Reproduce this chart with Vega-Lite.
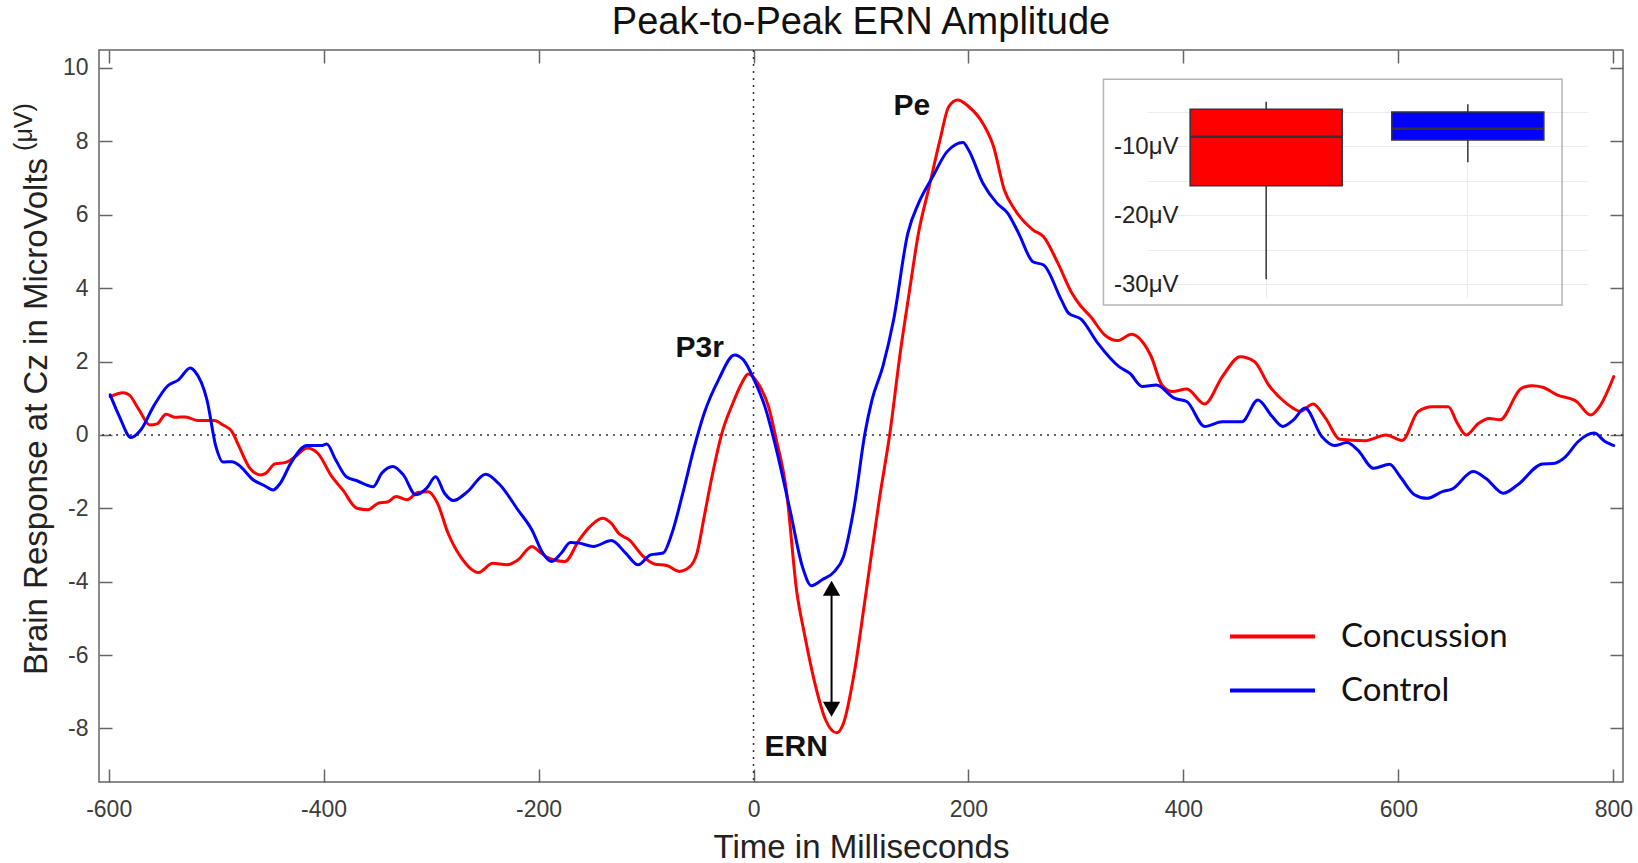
{
  "$schema": "https://vega.github.io/schema/vega-lite/v6.json",
  "width": 1524,
  "height": 732,
  "autosize": {"type": "none"},
  "padding": {"left": 99, "top": 50, "right": 15, "bottom": 81},
  "title": {"text": "Peak-to-Peak ERN Amplitude", "font": "Liberation Sans", "fontSize": 38, "fontWeight": "normal", "color": "#111111", "baseline": "alphabetic", "offset": 15, "dy": 38, "anchor": "middle", "frame": "group"},
  "config": {"view": {"stroke": "#666666", "strokeWidth": 1.5}, "font": "Liberation Sans"},
  "datasets": {
    "erp": [
      {"group":"Concussion","t":-598.6,"v":1.04},{"group":"Concussion","t":-586.6,"v":1.15},{"group":"Concussion","t":-581,"v":1.09},{"group":"Concussion","t":-571.7,"v":0.68},{"group":"Concussion","t":-561.7,"v":0.27},{"group":"Concussion","t":-555,"v":0.3},{"group":"Concussion","t":-546.6,"v":0.56},{"group":"Concussion","t":-538,"v":0.48},{"group":"Concussion","t":-528.5,"v":0.49},{"group":"Concussion","t":-517,"v":0.39},{"group":"Concussion","t":-501.9,"v":0.39},{"group":"Concussion","t":-493.6,"v":0.27},{"group":"Concussion","t":-485.3,"v":0.09},{"group":"Concussion","t":-478.6,"v":-0.32},{"group":"Concussion","t":-468.6,"v":-0.91},{"group":"Concussion","t":-458.7,"v":-1.09},{"group":"Concussion","t":-454,"v":-1.05},{"group":"Concussion","t":-445.4,"v":-0.79},{"group":"Concussion","t":-435.4,"v":-0.75},{"group":"Concussion","t":-425.4,"v":-0.57},{"group":"Concussion","t":-415.5,"v":-0.36},{"group":"Concussion","t":-405.5,"v":-0.5},{"group":"Concussion","t":-392.3,"v":-1.14},{"group":"Concussion","t":-382.2,"v":-1.5},{"group":"Concussion","t":-369,"v":-2.0},{"group":"Concussion","t":-358.9,"v":-2.04},{"group":"Concussion","t":-349,"v":-1.86},{"group":"Concussion","t":-340.7,"v":-1.83},{"group":"Concussion","t":-332.4,"v":-1.68},{"group":"Concussion","t":-322.5,"v":-1.77},{"group":"Concussion","t":-312.4,"v":-1.57},{"group":"Concussion","t":-302.4,"v":-1.55},{"group":"Concussion","t":-294.1,"v":-1.86},{"group":"Concussion","t":-284.2,"v":-2.68},{"group":"Concussion","t":-272.6,"v":-3.32},{"group":"Concussion","t":-255.9,"v":-3.75},{"group":"Concussion","t":-242.6,"v":-3.5},{"group":"Concussion","t":-229.5,"v":-3.54},{"group":"Concussion","t":-219.3,"v":-3.41},{"group":"Concussion","t":-206.2,"v":-3.04},{"group":"Concussion","t":-198.5,"v":-3.2},{"group":"Concussion","t":-192.8,"v":-3.32},{"group":"Concussion","t":-185.5,"v":-3.41},{"group":"Concussion","t":-175.5,"v":-3.45},{"group":"Concussion","t":-162.2,"v":-2.86},{"group":"Concussion","t":-152.2,"v":-2.5},{"group":"Concussion","t":-140.6,"v":-2.27},{"group":"Concussion","t":-132.3,"v":-2.41},{"group":"Concussion","t":-125.6,"v":-2.68},{"group":"Concussion","t":-115.7,"v":-2.86},{"group":"Concussion","t":-102.4,"v":-3.32},{"group":"Concussion","t":-92.4,"v":-3.52},{"group":"Concussion","t":-80.8,"v":-3.56},{"group":"Concussion","t":-69.2,"v":-3.72},{"group":"Concussion","t":-59.2,"v":-3.59},{"group":"Concussion","t":-52.6,"v":-3.22},{"group":"Concussion","t":-45.9,"v":-2.23},{"group":"Concussion","t":-39.3,"v":-1.23},{"group":"Concussion","t":-29.4,"v":0.05},{"group":"Concussion","t":-19.3,"v":0.86},{"group":"Concussion","t":-11,"v":1.41},{"group":"Concussion","t":-5,"v":1.66},{"group":"Concussion","t":4,"v":1.41},{"group":"Concussion","t":14,"v":0.77},{"group":"Concussion","t":20.6,"v":-0.05},{"group":"Concussion","t":30.5,"v":-1.5},{"group":"Concussion","t":40.4,"v":-4.31},{"group":"Concussion","t":47.2,"v":-5.4},{"group":"Concussion","t":57.1,"v":-6.77},{"group":"Concussion","t":67.1,"v":-7.77},{"group":"Concussion","t":77.5,"v":-8.12},{"group":"Concussion","t":83.7,"v":-7.86},{"group":"Concussion","t":93.7,"v":-6.49},{"group":"Concussion","t":103.7,"v":-4.5},{"group":"Concussion","t":117,"v":-1.77},{"group":"Concussion","t":126.9,"v":0.05},{"group":"Concussion","t":136.9,"v":2.32},{"group":"Concussion","t":145,"v":3.9},{"group":"Concussion","t":153.5,"v":5.5},{"group":"Concussion","t":163.5,"v":6.77},{"group":"Concussion","t":173.5,"v":8.04},{"group":"Concussion","t":181.7,"v":8.95},{"group":"Concussion","t":190.1,"v":9.13},{"group":"Concussion","t":200.1,"v":8.95},{"group":"Concussion","t":213.4,"v":8.49},{"group":"Concussion","t":223.3,"v":7.86},{"group":"Concussion","t":233.3,"v":6.68},{"group":"Concussion","t":243.3,"v":6.13},{"group":"Concussion","t":259.9,"v":5.59},{"group":"Concussion","t":269.9,"v":5.4},{"group":"Concussion","t":283.2,"v":4.68},{"group":"Concussion","t":296.3,"v":3.86},{"group":"Concussion","t":303.7,"v":3.54},{"group":"Concussion","t":313.7,"v":3.22},{"group":"Concussion","t":326.9,"v":2.72},{"group":"Concussion","t":338.6,"v":2.57},{"group":"Concussion","t":351.8,"v":2.74},{"group":"Concussion","t":361.8,"v":2.54},{"group":"Concussion","t":370.1,"v":2.13},{"group":"Concussion","t":380,"v":1.36},{"group":"Concussion","t":389.9,"v":1.18},{"group":"Concussion","t":403.1,"v":1.25},{"group":"Concussion","t":419.7,"v":0.84},{"group":"Concussion","t":436.2,"v":1.59},{"group":"Concussion","t":452.8,"v":2.13},{"group":"Concussion","t":466,"v":2.0},{"group":"Concussion","t":479.3,"v":1.36},{"group":"Concussion","t":495.8,"v":0.86},{"group":"Concussion","t":509,"v":0.64},{"group":"Concussion","t":520.6,"v":0.84},{"group":"Concussion","t":532.3,"v":0.45},{"group":"Concussion","t":545.5,"v":-0.12},{"group":"Concussion","t":568.7,"v":-0.16},{"group":"Concussion","t":588.5,"v":0.0},{"group":"Concussion","t":603.5,"v":-0.15},{"group":"Concussion","t":618.4,"v":0.64},{"group":"Concussion","t":631.6,"v":0.77},{"group":"Concussion","t":646.5,"v":0.77},{"group":"Concussion","t":654.8,"v":0.32},{"group":"Concussion","t":663.1,"v":0.0},{"group":"Concussion","t":674.7,"v":0.32},{"group":"Concussion","t":684.6,"v":0.45},{"group":"Concussion","t":694.5,"v":0.41},{"group":"Concussion","t":714.4,"v":1.27},{"group":"Concussion","t":724.3,"v":1.34},{"group":"Concussion","t":734.2,"v":1.3},{"group":"Concussion","t":747.5,"v":1.09},{"group":"Concussion","t":765.7,"v":0.91},{"group":"Concussion","t":779,"v":0.54},{"group":"Concussion","t":787.2,"v":0.77},{"group":"Concussion","t":800.4,"v":1.59},
      {"group":"Control","t":-598.6,"v":1.09},{"group":"Control","t":-590,"v":0.5},{"group":"Control","t":-579.3,"v":-0.07},{"group":"Control","t":-570,"v":0.14},{"group":"Control","t":-558.4,"v":0.77},{"group":"Control","t":-545,"v":1.34},{"group":"Control","t":-535,"v":1.5},{"group":"Control","t":-524.1,"v":1.82},{"group":"Control","t":-519.7,"v":1.73},{"group":"Control","t":-508.5,"v":0.95},{"group":"Control","t":-500.2,"v":-0.32},{"group":"Control","t":-493.6,"v":-0.74},{"group":"Control","t":-485.3,"v":-0.73},{"group":"Control","t":-479,"v":-0.82},{"group":"Control","t":-465.3,"v":-1.23},{"group":"Control","t":-455.3,"v":-1.38},{"group":"Control","t":-447,"v":-1.5},{"group":"Control","t":-440.4,"v":-1.32},{"group":"Control","t":-430.5,"v":-0.77},{"group":"Control","t":-415.5,"v":-0.29},{"group":"Control","t":-402.1,"v":-0.29},{"group":"Control","t":-397.1,"v":-0.25},{"group":"Control","t":-388.8,"v":-0.68},{"group":"Control","t":-378.9,"v":-1.14},{"group":"Control","t":-369,"v":-1.25},{"group":"Control","t":-353.9,"v":-1.41},{"group":"Control","t":-345.8,"v":-1.04},{"group":"Control","t":-335.7,"v":-0.86},{"group":"Control","t":-325.8,"v":-1.09},{"group":"Control","t":-314.2,"v":-1.63},{"group":"Control","t":-304.1,"v":-1.45},{"group":"Control","t":-295.8,"v":-1.14},{"group":"Control","t":-287.5,"v":-1.59},{"group":"Control","t":-279.2,"v":-1.79},{"group":"Control","t":-265.9,"v":-1.54},{"group":"Control","t":-249.3,"v":-1.07},{"group":"Control","t":-236,"v":-1.36},{"group":"Control","t":-219.3,"v":-2.04},{"group":"Control","t":-206.2,"v":-2.59},{"group":"Control","t":-196.1,"v":-3.22},{"group":"Control","t":-187.8,"v":-3.45},{"group":"Control","t":-178.8,"v":-3.22},{"group":"Control","t":-170.5,"v":-2.93},{"group":"Control","t":-162.2,"v":-2.95},{"group":"Control","t":-148.9,"v":-3.04},{"group":"Control","t":-132.3,"v":-2.88},{"group":"Control","t":-119,"v":-3.22},{"group":"Control","t":-107.4,"v":-3.54},{"group":"Control","t":-95.8,"v":-3.27},{"group":"Control","t":-84.1,"v":-3.22},{"group":"Control","t":-75.9,"v":-2.68},{"group":"Control","t":-65.8,"v":-1.59},{"group":"Control","t":-55.8,"v":-0.41},{"group":"Control","t":-45.9,"v":0.59},{"group":"Control","t":-32.6,"v":1.5},{"group":"Control","t":-17.7,"v":2.18},{"group":"Control","t":-9.3,"v":2.04},{"group":"Control","t":0.6,"v":1.5},{"group":"Control","t":10.6,"v":0.77},{"group":"Control","t":20.6,"v":-0.32},{"group":"Control","t":33.9,"v":-2.04},{"group":"Control","t":45.5,"v":-3.59},{"group":"Control","t":53.8,"v":-4.11},{"group":"Control","t":63.8,"v":-3.95},{"group":"Control","t":75.4,"v":-3.72},{"group":"Control","t":83.7,"v":-3.32},{"group":"Control","t":93.7,"v":-1.95},{"group":"Control","t":103.7,"v":0.05},{"group":"Control","t":110.2,"v":0.95},{"group":"Control","t":120.3,"v":1.86},{"group":"Control","t":130.3,"v":3.13},{"group":"Control","t":143.6,"v":5.5},{"group":"Control","t":153.5,"v":6.31},{"group":"Control","t":166.8,"v":7.04},{"group":"Control","t":180.1,"v":7.72},{"group":"Control","t":195,"v":7.97},{"group":"Control","t":200,"v":7.77},{"group":"Control","t":213.4,"v":6.86},{"group":"Control","t":226.6,"v":6.31},{"group":"Control","t":236.6,"v":6.04},{"group":"Control","t":246.6,"v":5.5},{"group":"Control","t":259.9,"v":4.72},{"group":"Control","t":269.9,"v":4.63},{"group":"Control","t":286.4,"v":3.68},{"group":"Control","t":293.1,"v":3.32},{"group":"Control","t":305,"v":3.15},{"group":"Control","t":320.3,"v":2.5},{"group":"Control","t":340.1,"v":1.86},{"group":"Control","t":350.1,"v":1.68},{"group":"Control","t":361.8,"v":1.32},{"group":"Control","t":374.9,"v":1.36},{"group":"Control","t":391.5,"v":1.0},{"group":"Control","t":403.1,"v":0.91},{"group":"Control","t":419.7,"v":0.23},{"group":"Control","t":436.2,"v":0.36},{"group":"Control","t":454.4,"v":0.36},{"group":"Control","t":469.3,"v":0.95},{"group":"Control","t":482.6,"v":0.5},{"group":"Control","t":492.5,"v":0.23},{"group":"Control","t":502.4,"v":0.41},{"group":"Control","t":513,"v":0.73},{"group":"Control","t":528.9,"v":-0.05},{"group":"Control","t":540.6,"v":-0.29},{"group":"Control","t":552.1,"v":-0.21},{"group":"Control","t":562.1,"v":-0.41},{"group":"Control","t":577,"v":-0.91},{"group":"Control","t":591.8,"v":-0.8},{"group":"Control","t":601.7,"v":-1.14},{"group":"Control","t":615,"v":-1.63},{"group":"Control","t":626.6,"v":-1.73},{"group":"Control","t":641.5,"v":-1.54},{"group":"Control","t":649.8,"v":-1.48},{"group":"Control","t":669.6,"v":-1.0},{"group":"Control","t":681.2,"v":-1.18},{"group":"Control","t":697.8,"v":-1.59},{"group":"Control","t":711,"v":-1.36},{"group":"Control","t":734.2,"v":-0.79},{"group":"Control","t":744.1,"v":-0.78},{"group":"Control","t":755.7,"v":-0.59},{"group":"Control","t":767.3,"v":-0.18},{"group":"Control","t":782.2,"v":0.05},{"group":"Control","t":792.2,"v":-0.18},{"group":"Control","t":800.4,"v":-0.29}
    ],
    "box": [
      {"group":"Concussion","lower":-29.3,"q1":-15.75,"median":-8.65,"q3":-4.68,"upper":-3.58},
      {"group":"Control","lower":-12.36,"q1":-9.13,"median":-7.5,"q3":-5.07,"upper":-3.96}
    ],
    "labels": [
      {"label":"P3r","t":-50,"v":2.13},
      {"label":"Pe","t":147.2,"v":8.72},
      {"label":"ERN","t":39.7,"v":-8.75}
    ],
    "unit": [{"unit": "(μV)"}],
    "one": [{}]
  },
  "layer": [
    {
      "layer": [
        {
          "data": {"name": "one"},
          "mark": {"type": "rule", "strokeDash": [2, 5], "strokeWidth": 1.5, "color": "#333333"},
          "encoding": {
            "y": {"datum": 0, "type": "quantitative", "scale": {"domain": [-9.46, 10.49], "nice": false, "zero": false},
                  "axis": {"orient": "right", "values": [-8,-6,-4,-2,0,2,4,6,8,10], "tickSize": -13, "tickColor": "#666666", "tickWidth": 1.5, "labels": false, "domain": false, "grid": false, "title": null}}
          }
        },
        {
          "data": {"name": "one"},
          "mark": {"type": "rule", "strokeDash": [2, 5], "strokeWidth": 1.5, "color": "#333333"},
          "encoding": {
            "x": {"datum": 0, "type": "quantitative", "scale": {"domain": [-609, 809], "nice": false, "zero": false},
                  "axis": {"orient": "top", "values": [-600,-400,-200,0,200,400,600,800], "tickSize": -13, "tickColor": "#666666", "tickWidth": 1.5, "labels": false, "domain": false, "grid": false, "title": null}}
          }
        },
        {
          "data": {"name": "erp"},
          "mark": {"type": "line", "strokeWidth": 3, "interpolate": "monotone", "strokeCap": "round"},
          "encoding": {
            "x": {"field": "t", "type": "quantitative", "scale": {"domain": [-609, 809], "nice": false, "zero": false},
                  "axis": {"orient": "bottom", "values": [-600,-400,-200,0,200,400,600,800], "tickSize": -13, "tickColor": "#666666", "tickWidth": 1.5, "domain": false, "grid": false,
                           "labelPadding": 29, "labelFontSize": 23, "labelFont": "Liberation Sans", "labelColor": "#3c3c3c", "labelFlush": false, "labelOverlap": false,
                           "labelExpr": "replace(datum.label, '\u2212', '-')",
                           "title": "Time in Milliseconds", "titleFont": "Liberation Sans", "titleFontSize": 33, "titleFontWeight": "normal", "titleColor": "#222222", "titleBaseline": "alphabetic", "titleY": 75}},
            "y": {"field": "v", "type": "quantitative", "scale": {"domain": [-9.46, 10.49], "nice": false, "zero": false},
                  "axis": {"orient": "left", "values": [-8,-6,-4,-2,0,2,4,6,8,10], "tickSize": -13, "tickColor": "#666666", "tickWidth": 1.5, "domain": false, "grid": false,
                           "labelPadding": 24, "labelFontSize": 23, "labelFont": "Liberation Sans", "labelColor": "#3c3c3c", "labelFlush": false, "labelOverlap": false,
                           "labelExpr": "replace(datum.label, '\u2212', '-')",
                           "title": "Brain Response at Cz in MicroVolts", "titleFont": "Liberation Sans", "titleFontSize": 33, "titleFontWeight": "normal", "titleColor": "#222222", "titleBaseline": "alphabetic", "titleX": -53, "titleY": 366}},
            "color": {"field": "group", "type": "nominal",
                      "scale": {"domain": ["Concussion", "Control"], "range": ["#ff0000", "#0000ff"]},
                      "legend": {"orient": "none", "legendX": 1150, "legendY": 563, "title": null, "symbolType": "M-2,0H2", "symbolSize": 1806, "symbolStrokeWidth": 4,
                                 "labelFont": "Lato", "labelFontSize": 33, "labelColor": "#111111", "labelOffset": 45, "labelLimit": 500, "rowPadding": 13, "padding": 0}}
          }
        },
        {
          "data": {"name": "labels"},
          "mark": {"type": "text", "font": "Liberation Sans", "fontSize": 30, "fontWeight": "bold", "color": "#111111", "baseline": "alphabetic", "align": "center"},
          "encoding": {
            "x": {"field": "t", "type": "quantitative", "axis": null},
            "y": {"field": "v", "type": "quantitative", "axis": null},
            "text": {"field": "label"}
          }
        },
        {
          "data": {"name": "unit"},
          "mark": {"type": "text", "font": "Liberation Sans", "fontSize": 25, "color": "#222222", "angle": 270, "baseline": "alphabetic", "align": "center", "clip": false},
          "encoding": {
            "x": {"datum": -671, "type": "quantitative", "axis": null},
            "y": {"datum": 8.39, "type": "quantitative", "axis": null},
            "text": {"field": "unit"}
          }
        },
        {
          "data": {"name": "one"},
          "mark": {"type": "rule", "color": "#000000", "strokeWidth": 2},
          "encoding": {
            "x": {"datum": 72.6, "type": "quantitative", "axis": null},
            "y": {"datum": -4.2, "type": "quantitative", "axis": null},
            "y2": {"datum": -7.45}
          }
        },
        {
          "data": {"name": "one"},
          "mark": {"type": "point", "shape": "triangle-up", "filled": true, "color": "#000000", "opacity": 1, "size": 300},
          "encoding": {
            "x": {"datum": 72.6, "type": "quantitative", "axis": null},
            "y": {"datum": -4.18, "type": "quantitative", "axis": null}
          }
        },
        {
          "data": {"name": "one"},
          "mark": {"type": "point", "shape": "triangle-down", "filled": true, "color": "#000000", "opacity": 1, "size": 300},
          "encoding": {
            "x": {"datum": 72.6, "type": "quantitative", "axis": null},
            "y": {"datum": -7.48, "type": "quantitative", "axis": null}
          }
        },
        {
          "data": {"name": "one"},
          "mark": {"type": "rect", "filled": false, "fill": "transparent", "stroke": "#b4b4b4", "strokeWidth": 1.5},
          "encoding": {
            "x": {"datum": 325.6, "type": "quantitative", "axis": null},
            "x2": {"datum": 752.3},
            "y": {"datum": 9.69, "type": "quantitative", "axis": null},
            "y2": {"datum": 3.54}
          }
        }
      ],
      "resolve": {"axis": {"x": "independent", "y": "independent"}}
    },
    {
      "data": {"name": "box"},
      "encoding": {
        "x": {"field": "group", "type": "nominal",
              "scale": {"domain": ["Concussion", "Control"], "range": [1048, 1488], "paddingInner": 0.246, "paddingOuter": 0.214},
              "axis": {"orient": "top", "grid": true, "gridColor": "#ececec", "gridWidth": 1, "labels": false, "ticks": false, "domain": false, "title": null, "bandPosition": 0.5}}
      },
      "layer": [
        {
          "mark": {"type": "rule", "color": "#333333", "strokeWidth": 1.5},
          "encoding": {
            "y": {"field": "lower", "type": "quantitative",
                  "scale": {"domain": [-32, -4], "range": [247.8, 54.6], "nice": false, "zero": false},
                  "axis": {"orient": "left", "offset": -1079, "values": [-30,-25,-20,-15,-10,-5], "grid": true, "gridColor": "#ececec", "gridWidth": 1,
                           "domain": false, "ticks": false, "labelPadding": 0, "labelFont": "Liberation Sans", "labelFontSize": 24, "labelColor": "#222222",
                           "labelExpr": "datum.value % 10 === 0 ? replace(datum.label, '\u2212', '-') + 'μV' : ''", "title": null}},
            "y2": {"field": "upper"}
          }
        },
        {
          "mark": {"type": "bar", "stroke": "#333333", "strokeWidth": 1.5},
          "encoding": {
            "y": {"field": "q1", "type": "quantitative"},
            "y2": {"field": "q3"},
            "fill": {"condition": {"test": "datum.group === 'Concussion'", "value": "#ff0000"}, "value": "#0000ff"}
          }
        },
        {
          "mark": {"type": "tick", "color": "#333333", "thickness": 2.5, "size": 152, "opacity": 1},
          "encoding": {
            "y": {"field": "median", "type": "quantitative"}
          }
        }
      ]
    }
  ],
  "resolve": {"scale": {"x": "independent", "y": "independent"}}
}
